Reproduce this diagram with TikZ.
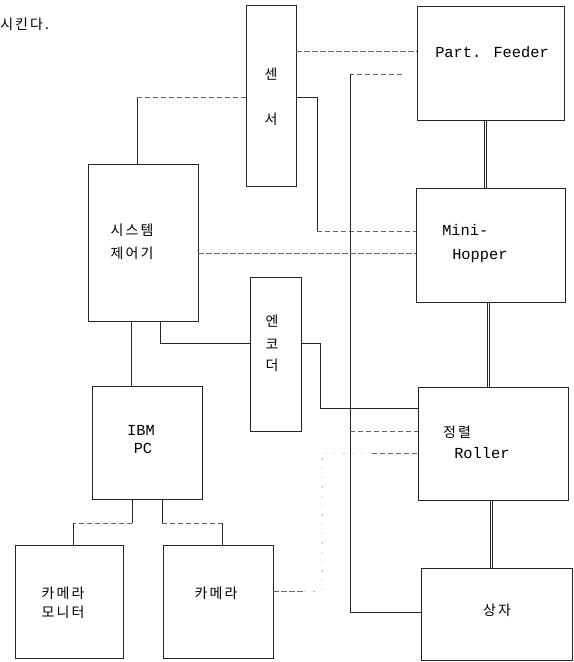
\documentclass[tikz,border=0pt]{standalone}
\usepackage{fontspec}
\setmainfont{Liberation Mono}
\newfontfamily\kr[LetterSpace=15]{Noto Sans CJK KR}
\begin{document}
\begin{tikzpicture}[x=0.75pt,y=-0.75pt,
  box/.style={draw=black!85, line width=0.6pt, inner sep=0pt},
  conn/.style={draw=black!85, line width=0.6pt},
  dconn/.style={draw=black!60, line width=0.5pt, dash pattern=on 4pt off 2pt},
  faint/.style={draw=black!25, line width=0.4pt, dash pattern=on 1pt off 6pt},
  rail/.style={draw=black!85, line width=0.6pt},
  kt/.style={font=\kr\fontsize{10.5}{17}\selectfont, inner sep=0pt},
  lt/.style={font=\fontsize{11.5}{19}\selectfont, inner sep=0pt}]
\useasboundingbox (0,0) rectangle (574,662);

% boxes
\node[box, minimum width=37.5pt,  minimum height=135.75pt] (sen)  at (271,95.5) {};
\node[box, minimum width=110.25pt, minimum height=85.5pt]  (pf)   at (490.5,63) {};
\node[box, minimum width=111.75pt, minimum height=85.5pt]  (mh)   at (490.5,245) {};
\node[box, minimum width=112.5pt, minimum height=84.75pt]  (roll) at (493,443.5) {};
\node[box, minimum width=113.25pt, minimum height=69pt]    (bx)   at (496.5,614) {};
\node[box, minimum width=82.5pt,  minimum height=117.75pt] (sys)  at (143,242.5) {};
\node[box, minimum width=38.25pt, minimum height=115.5pt]  (enc)  at (275.5,354) {};
\node[box, minimum width=82.5pt,  minimum height=84.75pt]  (ibm)  at (147,442.5) {};
\node[box, minimum width=81pt,    minimum height=84.75pt]  (mon)  at (69,601.5) {};
\node[box, minimum width=82.5pt,  minimum height=84.75pt]  (cam)  at (218,601.5) {};

% texts
\node[kt, anchor=west] (intro) at (0,24) {시킨다.};
\node[kt] (sen-t1) at (271,74) {센};
\node[kt] (sen-t2) at (271,119) {서};
\node[lt] (pf-t) at (492,52) {Part. Feeder};
\node[lt, anchor=west] (mh-t1) at (442,230) {Mini-};
\node[lt, anchor=west] (mh-t2) at (452,256) {Hopper};
\node[kt] (sys-t1) at (132,230) {시스템};
\node[kt] (sys-t2) at (132,253) {제어기};
\node[kt] (enc-t1) at (272,321) {엔};
\node[kt] (enc-t2) at (272,344) {코};
\node[kt] (enc-t3) at (272,365) {더};
\node[lt] (ibm-t1) at (141,430) {IBM};
\node[lt] (ibm-t2) at (143,448) {PC};
\node[kt] (roll-t1) at (457,432) {정렬};
\node[lt, anchor=west] (roll-t2) at (454,453) {Roller};
\node[kt] (mon-t1) at (63,593) {카메라};
\node[kt] (mon-t2) at (63,612) {모니터};
\node[kt] (cam-t) at (216,593) {카메라};
\node[kt] (bx-t) at (497,610) {상자};

% helper coordinates
\coordinate (x484) at (484,0);
\coordinate (x486) at (486.5,0);
\coordinate (x487) at (487,0);
\coordinate (x489) at (489.5,0);
\coordinate (x490) at (490,0);
\coordinate (x492) at (492.5,0);
\coordinate (y51) at (0,51);
\coordinate (y253) at (0,253);
\coordinate (x131) at (131,0);
\coordinate (c1) at (137,97);
\coordinate (c2) at (317,97);
\coordinate (c3) at (317,231);
\coordinate (t0) at (402,74);
\coordinate (t1) at (350,74);
\coordinate (t2) at (350,612);
\coordinate (c5) at (160,343);
\coordinate (c6) at (320,343);
\coordinate (c7) at (320,408);
\coordinate (c8) at (350,431);
\coordinate (c9) at (322,591);
\coordinate (c10) at (322,453);
\coordinate (c10b) at (372,453);
\coordinate (c11) at (132,523);
\coordinate (c12) at (73,523);
\coordinate (c13) at (162,523);
\coordinate (c14) at (222,523);

% double (mechanical) links
\draw[rail] (pf.south -| x484) -- (mh.north -| x484);
\draw[rail] (pf.south -| x486) -- (mh.north -| x486);
\draw[rail] (mh.south -| x487) -- (roll.north -| x487);
\draw[rail] (mh.south -| x489) -- (roll.north -| x489);
\draw[rail] (roll.south -| x490) -- (bx.north -| x490);
\draw[rail] (roll.south -| x492) -- (bx.north -| x492);

% sensor links
\draw[dconn] (sen.east |- y51) -- (pf.west |- y51);
\draw[conn] (sys.north -| c1) -- (c1);
\draw[dconn] (c1) -- (c1 -| sen.west);
\draw[conn] (c2 -| sen.east) -- (c2) -- (c3);
\draw[dconn] (c3) -- (c3 -| mh.west);

% long return line
\draw[dconn] (t0) -- (t1);
\draw[conn] (t1) -- (t2) -- (t2 -| bx.west);
\draw[dconn] (c8) -- (c8 -| roll.west);

% controller links
\draw[dconn] (sys.east |- y253) -- (mh.west |- y253);
\draw[conn] (sys.south -| x131) -- (ibm.north -| x131);
\draw[conn] (sys.south -| c5) -- (c5) -- (c5 -| enc.west);
\draw[conn] (c6 -| enc.east) -- (c6) -- (c7) -- (c7 -| roll.west);

% camera link
\draw[dconn] (cam.east |- c9) -- ([xshift=-13.5pt]c9);
\draw[faint] ([xshift=-13.5pt]c9) -- (c9) -- (c10) -- (c10b);
\draw[dconn] (c10b) -- (c10b -| roll.west);

% PC to monitor and camera
\draw[conn] (ibm.south -| c11) -- (c11);
\draw[dconn] (c11) -- (c12);
\draw[conn] (c12) -- (c12 |- mon.north);
\draw[conn] (ibm.south -| c13) -- (c13);
\draw[dconn] (c13) -- (c14);
\draw[conn] (c14) -- (c14 |- cam.north);
\end{tikzpicture}
\end{document}
